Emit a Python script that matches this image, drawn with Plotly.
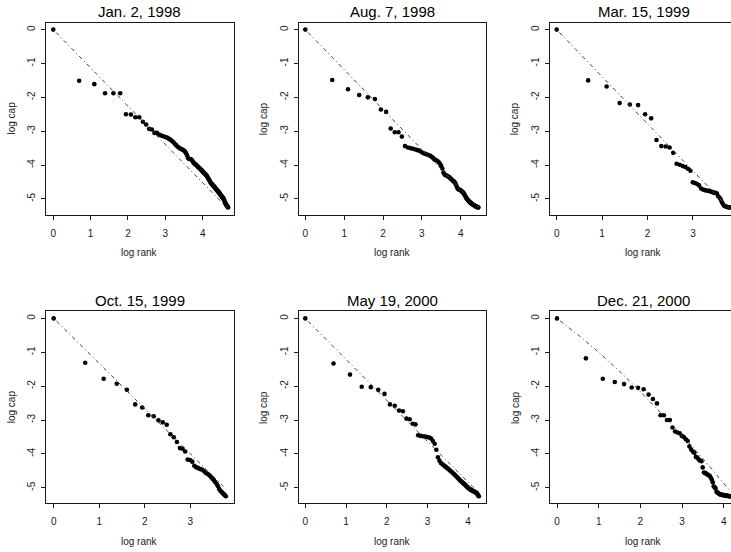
import numpy as np
import plotly.graph_objects as go

# Panel titles (snapshot dates)
titles = ["Jan. 2, 1998", "Aug. 7, 1998", "Mar. 15, 1999",
          "Oct. 15, 1999", "May 19, 2000", "Dec. 21, 2000"]

# log market cap (relative to the largest firm), ordered by rank 1, 2, 3, ...
logcap_jan98 = [0.00, -1.51, -1.61, -1.88, -1.88, -1.88, -2.50, -2.51, -2.59, -2.59,
                -2.72, -2.80, -2.93, -2.95, -3.05, -3.05, -3.10, -3.13, -3.15, -3.17,
                -3.19, -3.22, -3.25, -3.29, -3.33, -3.38, -3.42, -3.46, -3.49, -3.51,
                -3.53, -3.55, -3.57, -3.60, -3.65, -3.72, -3.80, -3.82, -3.82, -3.83,
                -3.86, -3.90, -3.94, -3.96, -3.98, -4.00, -4.03, -4.05, -4.07, -4.09,
                -4.11, -4.13, -4.15, -4.18, -4.20, -4.22, -4.24, -4.26, -4.28, -4.30,
                -4.32, -4.35, -4.38, -4.41, -4.44, -4.47, -4.50, -4.53, -4.55, -4.56,
                -4.58, -4.60, -4.62, -4.63, -4.65, -4.67, -4.69, -4.71, -4.73, -4.74,
                -4.76, -4.77, -4.79, -4.80, -4.82, -4.84, -4.86, -4.88, -4.89, -4.91,
                -4.93, -4.94, -4.96, -4.97, -4.99, -5.00, -5.03, -5.06, -5.09, -5.12,
                -5.14, -5.16, -5.18, -5.20, -5.22, -5.23, -5.24, -5.25]

logcap_aug98 = [0.00, -1.49, -1.76, -1.93, -2.00, -2.05, -2.36, -2.43, -2.92, -3.03,
                -3.03, -3.16, -3.44, -3.48, -3.50, -3.52, -3.54, -3.56, -3.58, -3.62,
                -3.65, -3.67, -3.69, -3.71, -3.73, -3.76, -3.80, -3.84, -3.86, -3.88,
                -3.92, -3.96, -4.02, -4.10, -4.22, -4.28, -4.30, -4.31, -4.33, -4.35,
                -4.37, -4.40, -4.42, -4.45, -4.47, -4.49, -4.52, -4.56, -4.62, -4.68,
                -4.71, -4.72, -4.73, -4.74, -4.76, -4.78, -4.79, -4.81, -4.84, -4.87,
                -4.90, -4.94, -4.97, -5.00, -5.02, -5.04, -5.06, -5.08, -5.10, -5.11,
                -5.12, -5.14, -5.15, -5.16, -5.17, -5.18, -5.19, -5.20, -5.21, -5.22,
                -5.22, -5.23, -5.24, -5.24, -5.25, -5.25]

logcap_mar99 = [0.00, -1.50, -1.68, -2.17, -2.21, -2.23, -2.50, -2.62, -3.26, -3.44,
                -3.45, -3.48, -3.64, -3.96, -3.99, -4.03, -4.06, -4.11, -4.17, -4.51,
                -4.53, -4.56, -4.60, -4.69, -4.72, -4.74, -4.75, -4.76, -4.77, -4.79,
                -4.80, -4.82, -4.82, -4.84, -4.92, -4.96, -5.02, -5.10, -5.16, -5.20,
                -5.22, -5.23, -5.24, -5.25, -5.25]

logcap_oct99 = [0.00, -1.31, -1.78, -1.93, -2.11, -2.54, -2.63, -2.86, -2.89, -3.01,
                -3.07, -3.14, -3.42, -3.51, -3.65, -3.83, -3.85, -3.93, -4.17, -4.18,
                -4.23, -4.35, -4.40, -4.42, -4.45, -4.46, -4.50, -4.55, -4.58, -4.61,
                -4.65, -4.70, -4.74, -4.79, -4.84, -4.89, -4.96, -5.04, -5.09, -5.12,
                -5.16, -5.19, -5.22, -5.25]

logcap_may00 = [0.00, -1.33, -1.66, -2.02, -2.03, -2.11, -2.23, -2.54, -2.58, -2.72,
                -2.74, -2.96, -2.98, -3.11, -3.13, -3.45, -3.47, -3.48, -3.49, -3.50,
                -3.52, -3.55, -3.62, -3.70, -3.88, -4.10, -4.20, -4.27, -4.31, -4.34,
                -4.37, -4.40, -4.43, -4.46, -4.49, -4.52, -4.55, -4.58, -4.61, -4.64,
                -4.67, -4.70, -4.73, -4.76, -4.79, -4.81, -4.83, -4.86, -4.88, -4.90,
                -4.92, -4.95, -4.97, -4.99, -5.01, -5.03, -5.04, -5.06, -5.07, -5.08,
                -5.09, -5.10, -5.11, -5.12, -5.13, -5.14, -5.15, -5.17, -5.20, -5.23,
                -5.25]

logcap_dec00 = [0.00, -1.18, -1.78, -1.88, -1.94, -2.04, -2.05, -2.09, -2.25, -2.38,
                -2.51, -2.86, -2.86, -3.00, -3.00, -3.22, -3.34, -3.37, -3.39, -3.47,
                -3.50, -3.57, -3.62, -3.78, -3.87, -3.93, -3.97, -4.09, -4.11, -4.17,
                -4.20, -4.22, -4.40, -4.55, -4.57, -4.58, -4.61, -4.63, -4.65, -4.70,
                -4.76, -4.84, -4.96, -4.99, -5.02, -5.12, -5.14, -5.16, -5.18, -5.20,
                -5.20, -5.21, -5.21, -5.22, -5.22, -5.23, -5.23, -5.23, -5.24, -5.24,
                -5.24, -5.25, -5.25, -5.25]

# fitted reference curves (log rank knots, log cap)
fit_x_jan98, fit_y_jan98 = [0, 4.68], [0, -5.29]
fit_x_aug98, fit_y_aug98 = [0, 4.45], [0, -5.25]
fit_x_mar99, fit_y_mar99 = [0, 3.84], [0, -5.34]
fit_x_oct99, fit_y_oct99 = [0, 3.78], [0, -5.03]
fit_x_may00, fit_y_may00 = [0, 4.26], [0, -5.15]
fit_x_dec00 = [0, 0.5, 1.0, 1.5, 2.0, 2.5, 3.0, 3.5, 4.0, 4.35]
fit_y_dec00 = [0, -0.48, -1.00, -1.56, -2.16, -2.79, -3.45, -4.14, -4.86, -5.38]

series = [logcap_jan98, logcap_aug98, logcap_mar99,
          logcap_oct99, logcap_may00, logcap_dec00]
fits = [(fit_x_jan98, fit_y_jan98), (fit_x_aug98, fit_y_aug98),
        (fit_x_mar99, fit_y_mar99), (fit_x_oct99, fit_y_oct99),
        (fit_x_may00, fit_y_may00), (fit_x_dec00, fit_y_dec00)]

y_tickvals = [0, -1, -2, -3, -4, -5]
y_ticktext = ["0", "-1", "-2", "-3", "-4", "-5"]
x_tickvals = [0, 1, 2, 3, 4]
x_ticktext = ["0", "1", "2", "3", "4"]

# ---- layout geometry (pixels) ----
W, H = 731, 552
col_left = [46.0, 298.7, 549.8]
box_w = 187.5
row_top = [22.5, 311.3]
box_h = 192.0
x_ranges = [[-0.195, 4.825], [-0.17, 4.655], [-0.152, 3.837],
            [-0.169, 3.952], [-0.162, 4.444], [-0.173, 4.176]]
y_range = [-5.46, 0.21]

FONT = "Liberation Sans, Arial, Helvetica, sans-serif"
INK = "#1a1a1a"

fig = go.Figure()
annotations = []

for i in range(6):
    r, c = divmod(i, 3)
    k = "" if i == 0 else str(i + 1)
    x0 = col_left[c]
    x1 = min(x0 + box_w, W)
    top = row_top[r]
    bot = top + box_h
    clipped = (x0 + box_w) > W

    yvals = series[i]
    xvals = np.log(np.arange(1, len(yvals) + 1))
    fx, fy = fits[i]

    fig.add_trace(go.Scatter(
        x=xvals, y=yvals, mode="markers",
        marker=dict(size=4.6, color="black", line=dict(width=0)),
        xaxis="x" + k, yaxis="y" + k, showlegend=False, hoverinfo="skip"))
    fig.add_trace(go.Scatter(
        x=fx, y=fy, mode="lines",
        line=dict(color="#444444", width=1, dash="1px,3px,4px,3px"),
        xaxis="x" + k, yaxis="y" + k, showlegend=False, hoverinfo="skip"))

    axis_common = dict(
        showgrid=False, zeroline=False, showline=True, linecolor=INK,
        linewidth=1, ticks="outside", ticklen=4, tickwidth=1, tickcolor=INK,
        tickfont=dict(family=FONT, size=10, color=INK), fixedrange=True)

    fig.layout["xaxis" + k] = dict(
        axis_common, domain=[x0 / W, x1 / W], range=x_ranges[i],
        anchor="y" + k, mirror=True, tickmode="array",
        tickvals=x_tickvals, ticktext=x_ticktext, ticklabelstandoff=5)
    fig.layout["yaxis" + k] = dict(
        axis_common, domain=[1 - bot / H, 1 - top / H], range=y_range,
        anchor="x" + k, mirror=not clipped, tickmode="array",
        tickvals=y_tickvals, ticktext=y_ticktext, tickangle=-90,
        ticklabelstandoff=2)

    cx = (x0 + box_w / 2) / W
    annotations.append(dict(
        text=titles[i], x=cx, y=1 - (top - 10.5) / H, xref="paper", yref="paper",
        xanchor="center", yanchor="middle", showarrow=False,
        font=dict(family=FONT, size=15, color="black")))
    annotations.append(dict(
        text="log rank", x=cx, y=1 - (bot + 38.5) / H, xref="paper", yref="paper",
        xanchor="center", yanchor="middle", showarrow=False,
        font=dict(family=FONT, size=10, color=INK)))
    annotations.append(dict(
        text="log cap", x=(x0 - 35) / W, y=1 - (top + box_h / 2) / H,
        xref="paper", yref="paper", xanchor="center", yanchor="middle",
        showarrow=False, textangle=-90,
        font=dict(family=FONT, size=10, color=INK)))

fig.update_layout(
    width=W, height=H, margin=dict(l=0, r=0, t=0, b=0),
    paper_bgcolor="white", plot_bgcolor="white",
    annotations=annotations, showlegend=False)

fig.write_html("out.html", config={"displayModeBar": False})
